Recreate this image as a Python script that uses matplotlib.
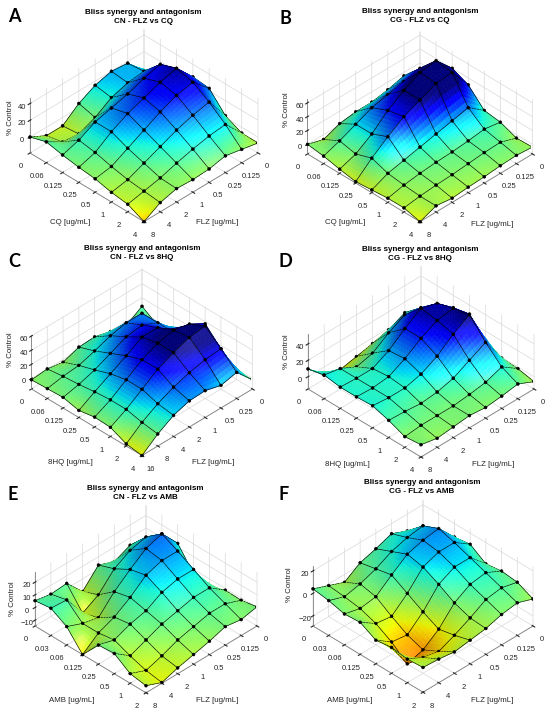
import numpy as np
import matplotlib
matplotlib.use("Agg")
import matplotlib.pyplot as plt
from matplotlib import colors as mcolors
from mpl_toolkits.mplot3d.art3d import Poly3DCollection

plt.rcParams["font.family"] = ["Liberation Sans", "DejaVu Sans"]
plt.rcParams["grid.color"] = "#d9d9d9"
plt.rcParams["grid.linewidth"] = 0.5

# tick labels (drug concentrations, ug/mL)
flz_ticks = ["0", "0.125", "0.25", "0.5", "1", "2", "4", "8"]
flz_ticks_16 = ["0", "0.25", "0.5", "1", "2", "4", "8", "16"]
cq_ticks = ["0", "0.06", "0.125", "0.25", "0.5", "1", "2", "4"]
hq_ticks = ["0", "0.06", "0.125", "0.25", "0.5", "1", "2", "4"]
amb_ticks = ["0", "0.03", "0.06", "0.125", "0.25", "0.5", "1", "2"]

# % control (Bliss), rows = second drug index, cols = FLZ index
cn_flz_cq = [
    [-3, 18, 20, 15, 5, -10, -10, 0],
    [8, 20, 18, 12, 0, -8, -6, 6],
    [20, 40, 35, 28, 23, 18, 8, 2],
    [25, 47, 42, 35, 28, 18, 5, -1],
    [23, 42, 38, 30, 20, 10, 0, -3],
    [2, 30, 26, 20, 12, 4, -4, -7.5],
    [-7, 15, 13, 9, 4, -2, -6, -10],
    [-7, -3, 1, -3, -4, -3, -8, -19],
]
cg_flz_cq = [
    [10, 15, 9, 5, 5, 2, -7, 0],
    [25, 40, 35, 30, 25, 15, 5, -3],
    [40, 65, 62, 50, 35, 15, 0, -8],
    [30, 62, 60, 50, 40, 25, 8, -12],
    [7, 25, 20, 15, 10, 5, 0, -10],
    [4, 8, 5, 3, 2, 0, -3, -8],
    [-5, 3, 2, 0, -2, -3, -5, -8],
    [-4, -2, -3, -5, -6, -8, -5, -14],
]
cn_flz_8hq = [
    [8, -6, -1, 5, 4, -4, 0, -2],
    [-6, 25, 25, 20, 12, 5, 3, -1],
    [3, 25, 35, 32, 22, 12, 5, 0],
    [21, 25, 45, 45, 32, 20, 8, -5],
    [37, 50, 55, 50, 40, 25, 10, -1],
    [15, 61, 58, 50, 40, 25, 10, -2],
    [-4, 42, 40, 35, 28, 18, 5, -12],
    [-2, 22, 17, 23, 22, 15, 2, -15],
]
cg_flz_8hq = [
    [0, 7, -2, -7, -11, -15, -10, 9.5],
    [14, 25, 28, 18, 5, 0, 10, 14],
    [25, 42, 48, 35, 20, 10, 10, 11],
    [29, 48, 45, 35, 22, 12, 10, 11],
    [9, 52, 40, 25, 15, 10, 10, 12],
    [-1, 30, 20, 10, 5, 3, 5, 6],
    [-2, 12, 5, 2, 0, 0, 0, -2],
    [-6, 3, 0, -2, 0, -2, -4, 0],
]
cn_flz_amb = [
    [0.5, 4, -1.6, 3.4, -10, 4, 3, 5.4],
    [13, 18, 15, 8, -5, -12, 6, 7],
    [13, 28, 24, 15, 5, -8, -5, 0],
    [-3.6, 22, 22, 18, 8, 0, -5, -14.6],
    [-7, 15, 15, 12, 5, 2, -3, 0.5],
    [-1.4, 8, 8, 5, 2, -3, -8, 1.4],
    [-1.8, 3, 3, 0, -3, -8, -12, -7],
    [0.6, -2, 0, -4, -7, -10, -14, -9],
]
cg_flz_amb = [
    [1, 5, 11, 6, 2, -7, -1.5, 4],
    [5, 18, 16, 12, 5, 0, -3, 2],
    [8, 24, 22, 18, 8, -3, -5, -1.5],
    [10, 20, 20, 15, 0, -12, -10, -0.5],
    [1, 15, 15, 8, -8, -20, -18, -8],
    [3, 10, 8, 0, -15, -25, -29, -6],
    [1.5, 5, 3, -5, -12, -18, -15, -8],
    [-5, 0, -2, -6, -8, -10, -8, -7],
]

ELEV, AZIM = 37.0, 45.0
FIG_W, FIG_H = 550, 712
cmap = plt.get_cmap("jet_r")
cnorm = mcolors.Normalize(-50, 50)

e, a = np.radians(ELEV), np.radians(AZIM)
W_CAM = np.array([np.cos(e) * np.cos(a), np.cos(e) * np.sin(a), np.sin(e)])
U_CAM = np.array([-np.sin(a), np.cos(a), 0.0])
V_CAM = np.array([-np.sin(e) * np.cos(a), -np.sin(e) * np.sin(a), np.cos(e)])
LIGHT = W_CAM + 0.6 * U_CAM + 0.6 * V_CAM
LIGHT /= np.linalg.norm(LIGHT)


def box_dims(hz):
    return np.array([1.0, 1.0, hz]) * 1.8294640721620434 * 25 / 24 / np.linalg.norm([1, 1, hz])


def surface_collection(z, zlim, box, sub=6):
    z = np.asarray(z, dtype=float)
    n = z.shape[0]
    idx = np.arange(n)
    fine = np.linspace(0, n - 1, (n - 1) * sub + 1)
    zr = np.array([np.interp(fine, idx, row) for row in z])
    zf = np.array([np.interp(fine, idx, col) for col in zr.T]).T
    X, Y = np.meshgrid(fine, fine)
    P = np.stack([X, Y, zf], axis=-1)
    quads = np.stack([P[:-1, :-1], P[:-1, 1:], P[1:, 1:], P[1:, :-1]], axis=2).reshape(-1, 4, 3)

    ranges = np.array([n - 1, n - 1, zlim[1] - zlim[0]])
    scale = box / ranges
    qw = quads * scale
    nrm = np.cross(qw[:, 2] - qw[:, 0], qw[:, 3] - qw[:, 1])
    nrm /= np.linalg.norm(nrm, axis=1)[:, None]
    ndl = nrm @ LIGHT
    diff = np.clip(ndl, 0, 1)
    refl = 2 * ndl[:, None] * nrm - LIGHT
    spec = np.clip(refl @ W_CAM, 0, 1) ** 10
    base = cmap(cnorm(quads[:, :, 2].mean(axis=1)))[:, :3]
    rgb = np.clip(base * (0.72 + 0.28 * diff)[:, None] + 0.18 * spec[:, None], 0, 1)

    # mesh lines and vertex dots, nudged toward the camera so they sort in front
    shift = W_CAM * 0.03 / scale
    segs = []
    for k in range(n):
        m = k * sub
        for p in range(len(fine) - 1):
            segs.append(P[m, p:p + 2] + shift)
            segs.append(P[p:p + 2, m] + shift)
    ang = np.linspace(0, 2 * np.pi, 9)[:-1]
    ring = (np.cos(ang)[:, None] * U_CAM + np.sin(ang)[:, None] * V_CAM) * 0.012
    dots = []
    for i in range(n):
        for j in range(n):
            c = np.array([j, i, z[i, j]])
            dots.append(c + (ring + W_CAM * 0.04) / scale)

    polys = list(quads) + segs + dots
    n_marks = len(segs) + len(dots)
    fc = [tuple(c) + (1,) for c in rgb] + [(0, 0, 0, 1)] * n_marks
    ec = fc[:len(quads)] + [(0, 0, 0, 1)] * n_marks
    return Poly3DCollection(polys, facecolors=fc, edgecolors=ec, linewidths=0.45)


def add_panel(fig, z, drug_labels, flz_labels, zticks, cx, floor_y, width, hz):
    box = box_dims(hz)
    s = (width / 2) / (box[0] / np.sqrt(2) / 10)
    cy = floor_y - s * box[2] * np.cos(e) / 20
    side = 0.185 * s
    left = cx - 0.095 * s
    bottom = cy + 0.095 * s
    ax = fig.add_axes([left / FIG_W, 1 - bottom / FIG_H, side / FIG_W, side / FIG_H],
                      projection="3d")
    ax.set_proj_type("ortho")
    ax.set_box_aspect((1, 1, hz))
    ax.view_init(elev=ELEV, azim=AZIM)
    ax.patch.set_alpha(0)
    z = np.asarray(z, dtype=float)
    zlim = (z.min(), z.max())
    ax.add_collection3d(surface_collection(z, zlim, box))
    ax.set_xlim(0, 7)
    ax.set_ylim(0, 7)
    ax.set_zlim(*zlim)
    ax.set_xticks(range(8))
    ax.set_xticklabels(flz_labels)
    ax.set_yticks(range(8))
    ax.set_yticklabels(drug_labels)
    ax.set_zticks(zticks)
    ax.tick_params(labelsize=5.5, pad=-1, colors="#262626")
    ax.zaxis.set_tick_params(pad=-5)
    for axis in (ax.xaxis, ax.yaxis, ax.zaxis):
        axis.set_pane_color((1, 1, 1, 0))
        axis.pane.set_edgecolor("#d9d9d9")
        axis.line.set_color("#808080")
        axis.line.set_linewidth(0.6)
    return ax


def ftext(fig, x, y, s, **kw):
    fig.text(x / FIG_W, 1 - y / FIG_H, s, ha="center", va="center", **kw)


fig = plt.figure(figsize=(5.5, 7.12), dpi=100)

panels = [
    ("A", "CN - FLZ vs CQ", cn_flz_cq, cq_ticks, flz_ticks, "CQ [ug/mL]", [0, 20, 40],
     (144, 153, 228, 0.43), (143, 12), (14, 17), (70, 223), (217, 223), (10, 118)),
    ("B", "CG - FLZ vs CQ", cg_flz_cq, cq_ticks, flz_ticks, "CQ [ug/mL]", [0, 20, 40, 60],
     (420, 154, 225, 0.43), (420, 11), (285, 18), (345, 223), (492, 225), (287, 110)),
    ("C", "CN - FLZ vs 8HQ", cn_flz_8hq, hq_ticks, flz_ticks_16, "8HQ [ug/mL]", [0, 20, 40, 60],
     (142, 389, 221, 0.43), (142, 248), (14, 262), (70, 463), (213, 462), (10, 350)),
    ("D", "CG - FLZ vs 8HQ", cg_flz_8hq, hq_ticks, flz_ticks, "8HQ [ug/mL]", [0, 20, 40],
     (421, 389, 226, 0.43), (420, 249), (285, 262), (347, 464), (493, 464), (287, 352)),
    ("E", "CN - FLZ vs AMB", cn_flz_amb, amb_ticks, flz_ticks, "AMB [ug/mL]", [-10, 0, 10, 20],
     (146, 626, 222, 0.43), (145, 488), (13, 495), (72, 701), (217, 701), (12, 599)),
    ("F", "CG - FLZ vs AMB", cg_flz_amb, amb_ticks, flz_ticks, "AMB [ug/mL]", [-20, 0, 20],
     (423, 626, 220, 0.48), (422, 482), (284, 495), (350, 700), (492, 700), (289, 585)),
]

for (letter, sub, z, dticks, fticks, dname, zt, geo, tpos, lpos, dpos, fpos, zpos) in panels:
    add_panel(fig, z, dticks, fticks, zt, *geo)
    ftext(fig, tpos[0], tpos[1] + 5, "Bliss synergy and antagonism\n" + sub,
          fontsize=5.8, fontweight="bold", linespacing=1.25)
    ftext(fig, *lpos, letter, fontsize=13, fontweight="bold", family=["Lato", "DejaVu Sans"])
    ftext(fig, *dpos, dname, fontsize=5.7, color="#262626")
    ftext(fig, *fpos, "FLZ [ug/mL]", fontsize=5.7, color="#262626")
    ftext(fig, *zpos, "% Control", fontsize=5.7, color="#262626", rotation=90)

fig.savefig("out.png", dpi=100, facecolor="white")
